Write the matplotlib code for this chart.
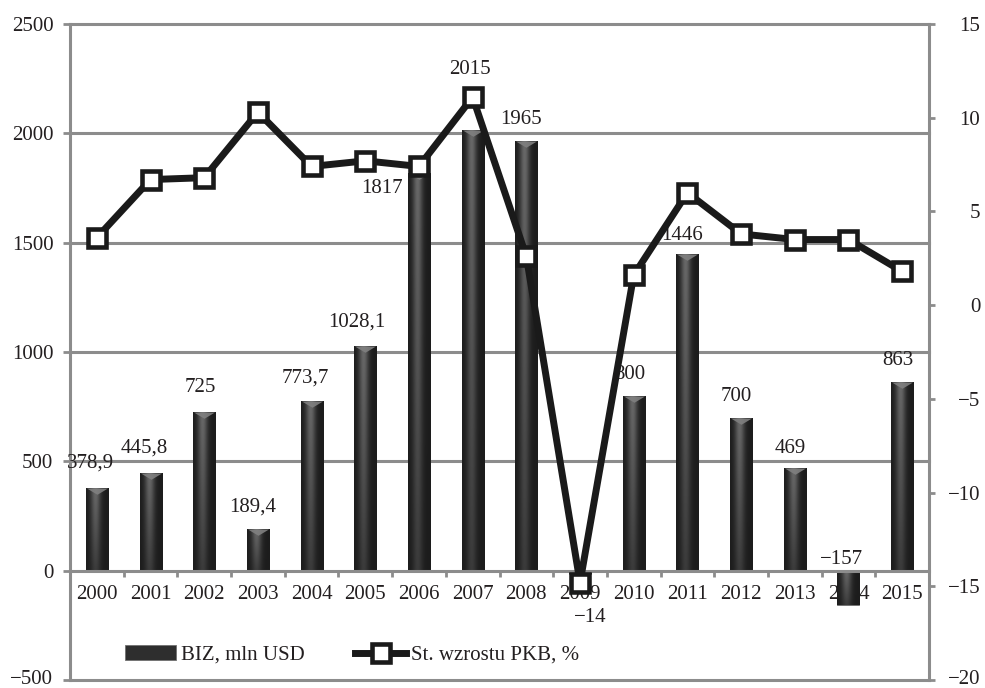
import numpy as np
import matplotlib
matplotlib.use("Agg")
import matplotlib.pyplot as plt
import matplotlib.transforms as mtransforms
from matplotlib.path import Path
from matplotlib.patches import Patch
from matplotlib.lines import Line2D

plt.rcParams["font.family"] = ["Liberation Serif", "DejaVu Serif"]
plt.rcParams["font.size"] = 15

# ---- data ----
years = ["2000", "2001", "2002", "2003", "2004", "2005", "2006", "2007",
         "2008", "2009", "2010", "2011", "2012", "2013", "2014", "2015"]
fdi = [378.9, 445.8, 725, 189.4, 773.7, 1028.1, 1817, 2015,
       1965, -14, 800, 1446, 700, 469, -157, 863]
gdp_growth = [3.6, 6.7, 6.8, 10.3, 7.4, 7.7, 7.4, 11.1,
              2.6, -14.8, 1.6, 6.0, 3.8, 3.5, 3.5, 1.8]
left_ticks = [-500, 0, 500, 1000, 1500, 2000, 2500]
right_ticks = [-20, -15, -10, -5, 0, 5, 10, 15]
series_names = ["BIZ, mln USD", "St. wzrostu PKB, %"]

GRAY = "#8c8c8c"
INK = "#231f20"
LINE = "#1a1a1a"
DPI = 100

fig = plt.figure(figsize=(9.85, 6.88), dpi=DPI)
ax = fig.add_axes([70 / 985, 8 / 688, 859 / 985, 656 / 688])
ax2 = ax.twinx()

x = np.arange(len(years))
bar_w = 0.41

ax.set_xlim(-0.5, len(years) - 0.5)
ax.set_ylim(left_ticks[0], left_ticks[-1])
ax2.set_ylim(right_ticks[0], right_ticks[-1])

# horizontal grid (also forms the top and bottom frame)
for v in left_ticks:
    if v != 0:
        ax.axhline(v, color=GRAY, lw=2.2, zorder=0.5, clip_on=False)

bars = ax.bar(x, fdi, width=bar_w, color="#222222", edgecolor="#707070",
              lw=0.6, zorder=2)

# cylinder-like shading inside every bar
H, W = 120, 60
xs = np.linspace(0, 1, W)
ys = np.linspace(0, 1, H)[:, None]
highlight = np.exp(-((xs - 0.42) / 0.22) ** 2)[None, :]
shade = 0.11 + 0.30 * highlight * (1 - 0.6 * ys)
shade_rgb = np.dstack([shade] * 3)
for p in bars.patches:
    x0, y0 = p.get_xy()
    w, h = p.get_width(), p.get_height()
    lo, hi = min(y0, y0 + h), max(y0, y0 + h)
    im = ax.imshow(shade_rgb, extent=(x0, x0 + w, lo, hi), aspect="auto",
                   origin="upper", interpolation="bilinear", zorder=2.05)
    im.set_clip_path(p)

ax.set_xlim(-0.5, len(years) - 0.5)
ax.set_ylim(left_ticks[0], left_ticks[-1])

# bevel highlight at the top of positive bars
pts = ax.transData.transform([(0, 0), (bar_w, 0)])
bar_pts = (pts[1, 0] - pts[0, 0]) * 72 / DPI
bevel = Path([(-1, 0), (1, 0), (0, -0.6), (-1, 0)],
             [Path.MOVETO, Path.LINETO, Path.LINETO, Path.CLOSEPOLY])
for xi, v in zip(x, fdi):
    if v > 0:
        ax.plot([xi], [v], marker=bevel, ms=bar_pts * 0.95, color="#808080",
                mec="none", alpha=0.9, zorder=2.1, ls="none")

# value labels (pixel offsets from the bar end)
offsets_px = {0: (-6, 25), 1: (-6, 25), 2: (-4, 25), 3: (-5, 22),
              4: (-6, 23), 5: (-8, 24), 6: (-37, -15), 7: (-3, 61),
              8: (-5, 21), 9: (10, -44), 10: (-4, 21), 11: (-5, 19),
              12: (-5, 21), 13: (-5, 20), 14: (-7, 45), 15: (-4, 21)}


def fmt(v):
    s = f"{abs(v):g}".replace(".", ",")
    return ("\u2212" + s) if v < 0 else s


for i, (xi, v) in enumerate(zip(x, fdi)):
    dx, dy = offsets_px[i]
    ax.annotate(fmt(v), (xi, v), xytext=(dx * 0.72, dy * 0.72),
                textcoords="offset points", ha="center", va="center",
                color=INK, fontsize=15, zorder=3)

# growth line on the secondary axis
ax2.plot(x, gdp_growth, color=LINE, lw=5, marker="s", ms=13.5,
         mfc="white", mec=LINE, mew=3.3, zorder=3, clip_on=False)

# axes styling
for s in ["top", "right"]:
    ax.spines[s].set_visible(False)
ax.spines["left"].set_color(GRAY)
ax.spines["left"].set_linewidth(2.2)
ax.spines["bottom"].set_position(("data", 0))
ax.spines["bottom"].set_color(GRAY)
ax.spines["bottom"].set_linewidth(2.2)
ax.spines["bottom"].set_zorder(2.5)

ax.set_yticks(left_ticks)
ax.tick_params(axis="y", length=5, width=2, color=GRAY, pad=7,
               labelcolor=INK, labelsize=15)
ax.set_xticks(x)
ax.set_xticklabels(years)
ax.set_xticks(np.arange(-0.5, len(years), 1), minor=True)
ax.tick_params(axis="x", which="major", length=0, pad=10, labelcolor=INK,
               labelsize=15)
ax.tick_params(axis="x", which="minor", length=4, width=2, color=GRAY,
               direction="out")

for s in ["top", "left", "bottom"]:
    ax2.spines[s].set_visible(False)
ax2.spines["right"].set_color(GRAY)
ax2.spines["right"].set_linewidth(2.2)
ax2.set_yticks(right_ticks)
ax2.tick_params(axis="y", length=4, width=2, color=GRAY, pad=33,
                labelcolor=INK, labelsize=15)
for t in ax2.get_yticklabels():
    t.set_horizontalalignment("right")

# keep the lowest tick labels inside the canvas
lift = mtransforms.ScaledTranslation(0, 3 / DPI, fig.dpi_scale_trans)
for lab in (ax.get_yticklabels()[0], ax2.get_yticklabels()[0]):
    lab.set_transform(lab.get_transform() + lift)

# legend
handles = [
    Patch(facecolor="#2e2e2e", edgecolor="#707070", lw=0.6),
    Line2D([], [], color=LINE, lw=5, marker="s", ms=13.5, mfc="white",
           mec=LINE, mew=3.3),
]
fig.legend(handles, series_names, loc="center left",
           bbox_to_anchor=(125 / 985, 1 - 655 / 688), ncol=2, frameon=False,
           fontsize=15, handlelength=2.45, handletextpad=0.25,
           columnspacing=2.4, borderpad=0, borderaxespad=0,
           labelcolor=INK)

fig.savefig("out.png", dpi=DPI)
